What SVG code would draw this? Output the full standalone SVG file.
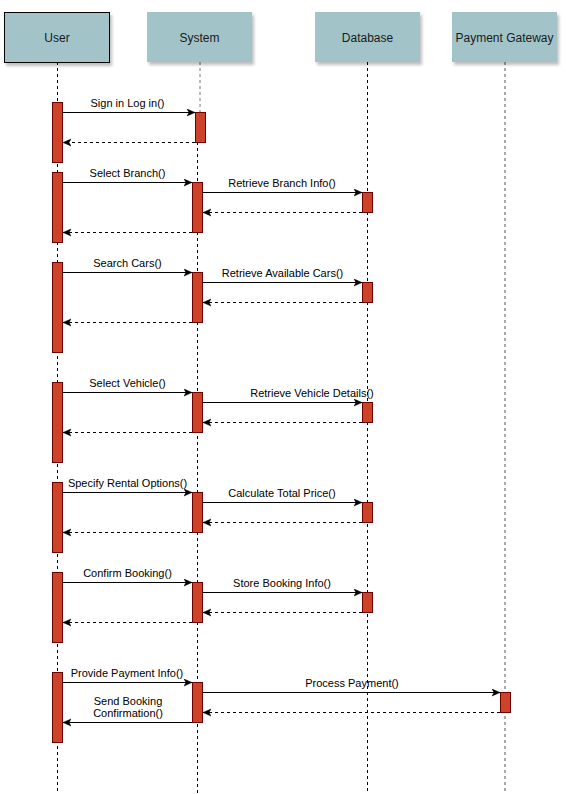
<svg xmlns="http://www.w3.org/2000/svg" width="566" height="794" viewBox="0 0 566 794">
<style>
.hdr{fill:#a2c4c9;}
.ht{font-family:"Liberation Sans",Arial,sans-serif;font-size:12px;fill:#1a1a1a;text-anchor:middle;}
.lt{font-family:"Liberation Sans",Arial,sans-serif;font-size:11px;fill:#000;text-anchor:middle;}
.life{stroke:#000;stroke-width:1;stroke-dasharray:3 3;fill:none;}
.act{fill:#cd4328;stroke:#6f0000;stroke-width:1;}
.msg{stroke:#000;stroke-width:1;fill:none;marker-end:url(#arr);}
.ret{stroke:#000;stroke-width:1;fill:none;stroke-dasharray:3 3;marker-end:url(#arr);}
</style>
<defs>
<filter id="sh" x="-10%" y="-10%" width="130%" height="140%">
<feDropShadow dx="2" dy="3" stdDeviation="1.5" flood-color="#000" flood-opacity="0.25"/>
</filter>
<marker id="arr" markerUnits="userSpaceOnUse" markerWidth="10" markerHeight="10" refX="8" refY="4" orient="auto">
<path d="M0,0.5 L8,4 L0,7.5 L2,4 Z" fill="#000" stroke="#000" stroke-width="0.5"/>
</marker>
</defs>
<rect width="566" height="794" fill="#fff"/>

<g id="lifelines">
<line class="life" x1="57.5" y1="62" x2="57.5" y2="794" stroke="#555"/>
<line class="life" x1="200" y1="62" x2="200" y2="112" style="stroke:#777"/>
<line class="life" x1="197.5" y1="142" x2="197.5" y2="794"/>
<line class="life" x1="367.5" y1="62" x2="367.5" y2="794"/>
<line class="life" x1="505" y1="62" x2="505" y2="794" style="stroke:#555"/>
</g>

<g id="user">
<rect x="4.5" y="12.5" width="105" height="50" class="hdr" stroke="#000" stroke-width="1" filter="url(#sh)"/>
<text class="ht" x="57" y="41.5">User</text>
</g>
<g id="system">
<rect x="147" y="12" width="105" height="50" class="hdr" filter="url(#sh)"/>
<text class="ht" x="199.5" y="41.5">System</text>
</g>
<g id="database">
<rect x="315" y="12" width="105" height="50" class="hdr" filter="url(#sh)"/>
<text class="ht" x="367.5" y="41.5">Database</text>
</g>
<g id="payment-gateway">
<rect x="452" y="12" width="105" height="50" class="hdr" filter="url(#sh)"/>
<text class="ht" x="504.5" y="41.5">Payment Gateway</text>
</g>

<g id="user-activations">
<rect class="act" x="52.5" y="102.5" width="10" height="60"/>
<rect class="act" x="52.5" y="172.5" width="10" height="70"/>
<rect class="act" x="52.5" y="262.5" width="10" height="90"/>
<rect class="act" x="52.5" y="382.5" width="10" height="80"/>
<rect class="act" x="52.5" y="482.5" width="10" height="70"/>
<rect class="act" x="52.5" y="572.5" width="10" height="70"/>
<rect class="act" x="52.5" y="672.5" width="10" height="70"/>
</g>
<g id="system-activations">
<rect class="act" x="195.5" y="112.5" width="10" height="30"/>
<rect class="act" x="192.5" y="182.5" width="10" height="50"/>
<rect class="act" x="192.5" y="272.5" width="10" height="50"/>
<rect class="act" x="192.5" y="392.5" width="10" height="40"/>
<rect class="act" x="192.5" y="492.5" width="10" height="40"/>
<rect class="act" x="192.5" y="582.5" width="10" height="40"/>
<rect class="act" x="192.5" y="682.5" width="10" height="40"/>
</g>
<g id="database-activations">
<rect class="act" x="362.5" y="192.5" width="10" height="20"/>
<rect class="act" x="362.5" y="282.5" width="10" height="20"/>
<rect class="act" x="362.5" y="402.5" width="10" height="20"/>
<rect class="act" x="362.5" y="502.5" width="10" height="20"/>
<rect class="act" x="362.5" y="592.5" width="10" height="20"/>
</g>
<g id="gateway-activations">
<rect class="act" x="500.5" y="692.5" width="10" height="20"/>
</g>

<g id="connectors">
<line class="msg" x1="62.5" y1="112.5" x2="195" y2="112.5"/>
<line class="ret" x1="195" y1="142.5" x2="63" y2="142.5"/>

<line class="msg" x1="62.5" y1="182.5" x2="192" y2="182.5"/>
<line class="msg" x1="202.5" y1="192.5" x2="362" y2="192.5"/>
<line class="ret" x1="362" y1="212.5" x2="203" y2="212.5"/>
<line class="ret" x1="192" y1="232.5" x2="63" y2="232.5"/>

<line class="msg" x1="62.5" y1="272.5" x2="192" y2="272.5"/>
<line class="msg" x1="202.5" y1="282.5" x2="362" y2="282.5"/>
<line class="ret" x1="362" y1="302.5" x2="203" y2="302.5"/>
<line class="ret" x1="192" y1="322.5" x2="63" y2="322.5"/>

<line class="msg" x1="62.5" y1="392.5" x2="192" y2="392.5"/>
<line class="msg" x1="202.5" y1="402.5" x2="362" y2="402.5"/>
<line class="ret" x1="362" y1="422.5" x2="203" y2="422.5"/>
<line class="ret" x1="192" y1="432.5" x2="63" y2="432.5"/>

<line class="msg" x1="62.5" y1="492.5" x2="192" y2="492.5"/>
<line class="msg" x1="202.5" y1="502.5" x2="362" y2="502.5"/>
<line class="ret" x1="362" y1="522.5" x2="203" y2="522.5"/>
<line class="ret" x1="192" y1="532.5" x2="63" y2="532.5"/>

<line class="msg" x1="62.5" y1="582.5" x2="192" y2="582.5"/>
<line class="msg" x1="202.5" y1="592.5" x2="362" y2="592.5"/>
<line class="ret" x1="362" y1="612.5" x2="203" y2="612.5"/>
<line class="ret" x1="192" y1="622.5" x2="63" y2="622.5"/>

<line class="msg" x1="62.5" y1="682.5" x2="192" y2="682.5"/>
<line class="msg" x1="202.5" y1="692.5" x2="500" y2="692.5"/>
<line class="ret" x1="500" y1="712.5" x2="203" y2="712.5"/>
<line class="msg" x1="192" y1="722.5" x2="63" y2="722.5"/>
</g>

<g id="labels">
<text class="lt" x="127.5" y="107">Sign in Log in()</text>
<text class="lt" x="127.5" y="177">Select Branch()</text>
<text class="lt" x="282" y="187">Retrieve Branch Info()</text>
<text class="lt" x="127.5" y="267">Search Cars()</text>
<text class="lt" x="282.5" y="277">Retrieve Available Cars()</text>
<text class="lt" x="127.5" y="387">Select Vehicle()</text>
<text class="lt" x="312" y="397">Retrieve Vehicle Details()</text>
<text class="lt" x="127.5" y="487">Specify Rental Options()</text>
<text class="lt" x="282" y="497">Calculate Total Price()</text>
<text class="lt" x="127.5" y="577">Confirm Booking()</text>
<text class="lt" x="282" y="587">Store Booking Info()</text>
<text class="lt" x="127" y="677">Provide Payment Info()</text>
<text class="lt" x="352" y="687">Process Payment()</text>
<text class="lt" x="128" y="705">Send Booking</text>
<text class="lt" x="128" y="717">Confirmation()</text>
</g>
</svg>
